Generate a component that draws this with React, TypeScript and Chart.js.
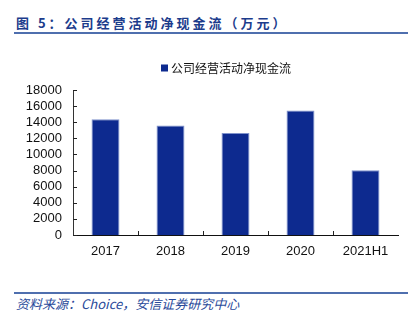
import React, { useEffect, useRef } from "react";
import { Chart, registerables } from "chart.js";

Chart.register(...registerables);

const categories = ["2017", "2018", "2019", "2020", "2021H1"];
const seriesName = "公司经营活动净现金流";
const cashFlow = [14370, 13580, 12660, 15470, 8050];
const yTicksMax = 18000;
const yTicksStep = 2000;

const titleText = "图 5：公司经营活动净现金流（万元）";
const sourceText = "资料来源：Choice，安信证券研究中心";

const inwardTicks = {
  id: "inwardTicks",
  afterDraw(chart: any) {
    const ctx = chart.ctx;
    const xs = chart.scales.x;
    const ys = chart.scales.y;
    ctx.save();
    ctx.strokeStyle = "#222";
    ctx.lineWidth = 1;
    ctx.beginPath();
    ys.ticks.forEach((_: any, i: number) => {
      const py = Math.round(ys.getPixelForTick(i)) + 0.5;
      ctx.moveTo(xs.left, py);
      ctx.lineTo(xs.left + 4, py);
    });
    for (let i = 1; i < categories.length; i++) {
      const px = Math.round((xs.getPixelForValue(i - 1) + xs.getPixelForValue(i)) / 2) + 0.5;
      ctx.moveTo(px, ys.bottom);
      ctx.lineTo(px, ys.bottom - 4);
    }
    ctx.stroke();
    ctx.restore();
  },
};

// legend drawn from the dataset, placed above the plot
const topLegend = {
  id: "topLegend",
  afterDraw(chart: any) {
    const ctx = chart.ctx;
    const ds = chart.data.datasets[0];
    const x0 = 161;
    const yMid = 28;
    ctx.save();
    ctx.fillStyle = ds.backgroundColor;
    ctx.fillRect(x0, yMid - 3.5, 7, 7);
    ctx.fillStyle = "#111";
    ctx.font = "12px 'Noto Sans CJK SC', sans-serif";
    ctx.textBaseline = "middle";
    ctx.textAlign = "left";
    ctx.fillText(ds.label, x0 + 10, yMid);
    ctx.restore();
  },
};

export default function App() {
  const ref = useRef<HTMLCanvasElement | null>(null);

  useEffect(() => {
    if (!ref.current) return;
    const chart = new Chart(ref.current, {
      type: "bar",
      data: {
        labels: categories,
        datasets: [
          {
            label: seriesName,
            data: cashFlow,
            backgroundColor: "#0d2a8f",
            borderColor: "#7f92cc",
            borderWidth: 1,
            barPercentage: 0.43,
            categoryPercentage: 1,
          },
        ],
      },
      options: {
        animation: false,
        responsive: false,
        maintainAspectRatio: false,
        layout: { padding: { left: 10, right: 19, top: 50, bottom: 15 } },
        plugins: {
          legend: { display: false },
          tooltip: { enabled: false },
        },
        scales: {
          x: {
            grid: { display: false, drawTicks: false },
            border: { display: true, color: "#111", width: 1 },
            ticks: {
              color: "#111",
              padding: 9,
              font: { family: "'Liberation Sans', Arial, sans-serif", size: 13 },
            },
            afterFit(s: any) {
              s.height = 30;
            },
          },
          y: {
            min: 0,
            max: yTicksMax,
            grid: { display: false, drawTicks: false },
            border: { display: true, color: "#333", width: 1 },
            ticks: {
              stepSize: yTicksStep,
              autoSkip: false,
              color: "#111",
              padding: 11,
              font: { family: "'Liberation Sans', Arial, sans-serif", size: 13 },
              callback: (v: any) => String(v),
            },
            afterFit(s: any) {
              s.width = 63;
            },
          },
        },
      },
      plugins: [inwardTicks, topLegend],
    });
    return () => chart.destroy();
  }, []);

  return (
    <div
      style={{
        position: "fixed",
        left: 0,
        top: 0,
        width: 417,
        height: 322,
        background: "#fff",
        overflow: "hidden",
      }}
    >
      <div
        style={{
          position: "absolute",
          left: 16,
          top: 14,
          fontFamily: "'Noto Sans CJK SC', sans-serif",
          fontWeight: 700,
          fontSize: 13,
          lineHeight: "18px",
          letterSpacing: "3px",
          color: "#1c3c8c",
          whiteSpace: "nowrap",
        }}
      >
        {titleText}
      </div>
      <div
        style={{
          position: "absolute",
          left: 14,
          top: 32,
          width: 394,
          height: 2,
          background: "#4f6fae",
        }}
      />
      <canvas
        ref={ref}
        width={417}
        height={240}
        style={{ position: "absolute", left: 0, top: 40, width: 417, height: 240 }}
      />
      <div
        style={{
          position: "absolute",
          left: 14,
          top: 292,
          width: 394,
          height: 2,
          background: "#4f6fae",
        }}
      />
      <div
        style={{
          position: "absolute",
          left: 16,
          top: 295,
          fontFamily: "'Noto Sans CJK SC', sans-serif",
          fontStyle: "italic",
          fontSize: 13,
          lineHeight: "17px",
          letterSpacing: "0px",
          color: "#2a4a9a",
          whiteSpace: "nowrap",
        }}
      >
        {sourceText}
      </div>
    </div>
  );
}
